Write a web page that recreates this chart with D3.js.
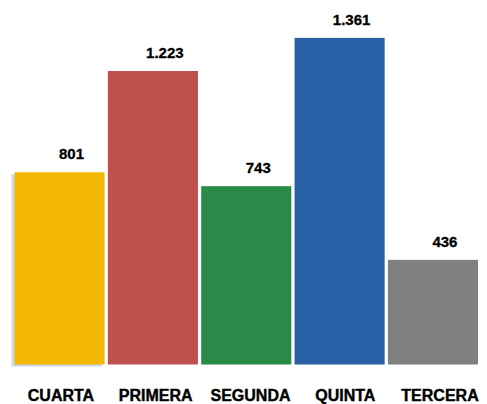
<!DOCTYPE html>
<html><head><meta charset="utf-8">
<script src="https://cdn.jsdelivr.net/npm/d3@7"></script>
<style>body{margin:0;background:#fff}svg{display:block}</style>
</head><body>
<script>
const categories = ["CUARTA","PRIMERA","SEGUNDA","QUINTA","TERCERA"];
const values = [801, 1223, 743, 1361, 436];
const valueLabels = ["801","1.223","743","1.361","436"];
const colors = ["#F2B700","#C0504D","#2A8B48","#2961A6","#808080"];

const W = 487, H = 404;
const svg = d3.select("body").append("svg").attr("width", W).attr("height", H);

const x = d3.scaleBand().domain(categories).range([14.5, 478]).paddingInner(0.035);
const xl = d3.scaleBand().domain(categories).range([13.6, 487.4]);
const y = d3.scaleLinear().domain([0, 1400]).range([364.5, 28.5]);

// faint shadow behind first bar
svg.append("rect")
  .attr("x", x(categories[0]) - 3).attr("y", y(values[0]) + 2)
  .attr("width", x.bandwidth()).attr("height", y(0) - y(values[0]))
  .attr("fill", "#cdd8ea");

svg.selectAll("rect.bar").data(categories).enter().append("rect")
  .attr("class", "bar")
  .attr("x", d => x(d))
  .attr("y", (d, i) => y(values[i]))
  .attr("width", x.bandwidth())
  .attr("height", (d, i) => y(0) - y(values[i]))
  .attr("fill", (d, i) => colors[i]);

svg.selectAll("text.val").data(categories).enter().append("text")
  .attr("class", "val")
  .attr("x", d => x(d) + x.bandwidth() / 2 + 12)
  .attr("y", (d, i) => y(values[i]) - 13)
  .attr("text-anchor", "middle")
  .attr("font-family", "Liberation Sans, Arial, sans-serif")
  .attr("font-weight", "bold")
  .attr("font-size", 15)
  .attr("fill", "#000")
  .attr("stroke", "#000").attr("stroke-width", 0.3)
  .text((d, i) => valueLabels[i]);

svg.selectAll("text.cat").data(categories).enter().append("text")
  .attr("class", "cat")
  .attr("x", d => xl(d) + xl.bandwidth() / 2)
  .attr("y", 401)
  .attr("text-anchor", "middle")
  .attr("font-family", "Liberation Sans, Arial, sans-serif")
  .attr("font-weight", "bold")
  .attr("font-size", 16)
  .attr("fill", "#000")
  .attr("stroke", "#000").attr("stroke-width", 0.4)
  .text(d => d);
</script>
</body></html>
